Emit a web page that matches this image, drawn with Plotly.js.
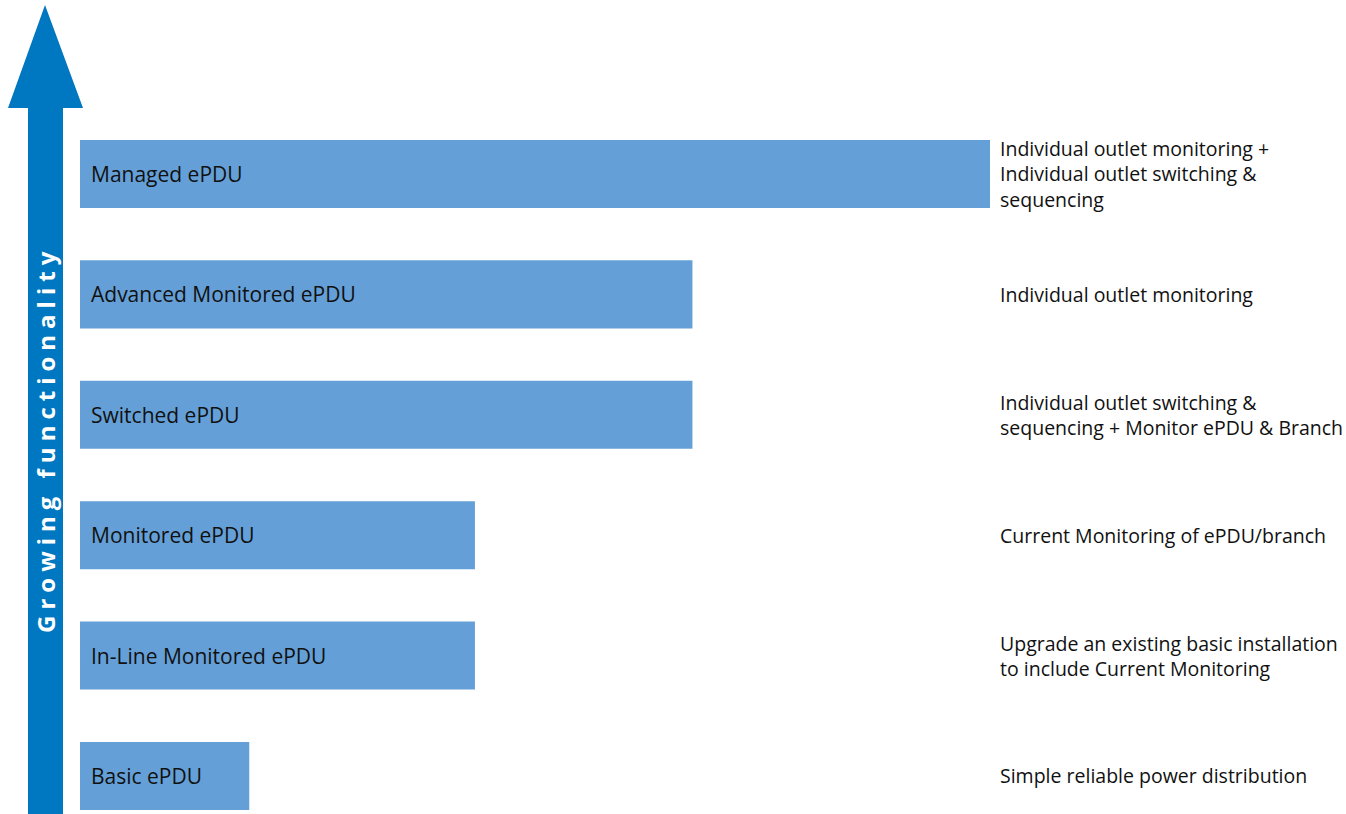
<!DOCTYPE html>
<html>
<head>
<meta charset="utf-8">
<script src="https://cdn.plot.ly/plotly-3.0.1.min.js"></script>
<style>
  html, body { margin: 0; padding: 0; background: #ffffff; }
  #chart { width: 1346px; height: 814px; }
</style>
</head>
<body>
<div id="chart"></div>
<script>
// ---- data ----
const categories = [
  'Basic ePDU',
  'In-Line Monitored ePDU',
  'Monitored ePDU',
  'Switched ePDU',
  'Advanced Monitored ePDU',
  'Managed ePDU'
];
const functionality = [18.6, 43.4, 43.4, 67.3, 67.3, 100];
const descriptions = [
  'Simple reliable power distribution',
  'Upgrade an existing basic installation<br>to include Current Monitoring',
  'Current Monitoring of ePDU/branch',
  'Individual outlet switching &<br>sequencing + Monitor ePDU & Branch',
  'Individual outlet monitoring',
  'Individual outlet monitoring +<br>Individual outlet switching &<br>sequencing'
];
const arrowLabel = 'Growing functionality';

// ---- layout helpers ----
const W = 1346, H = 814;
const M = { l: 80, r: 356, t: 0, b: 0 };
const PW = W - M.l - M.r;
const PH = H - M.t - M.b;
const px = x => (x - M.l) / PW;          // pixel -> paper x
const py = y => 1 - (y - M.t) / PH;      // pixel -> paper y

const FONT = '"Open Sans", "Noto Sans", sans-serif';

const trace = {
  type: 'bar',
  orientation: 'h',
  y: categories,
  x: functionality,
  width: 0.565,
  marker: { color: '#64A0D7', line: { width: 0 } },
  hoverinfo: 'skip',
  showlegend: false
};

const annotations = [];
categories.forEach((c, i) => {
  annotations.push({
    xref: 'x', yref: 'y', x: 0, y: c,
    xanchor: 'left', yanchor: 'middle', xshift: 9,
    text: c, showarrow: false,
    font: { family: FONT, size: 21, color: '#111111' }
  });
  annotations.push({
    xref: 'paper', yref: 'y', x: px(998), y: c,
    xanchor: 'left', yanchor: 'middle', align: 'left',
    text: descriptions[i], showarrow: false,
    font: { family: FONT, size: 19.5, color: '#111111' }
  });
});

annotations.push({
  xref: 'paper', yref: 'paper', x: px(45), y: py(440),
  xanchor: 'center', yanchor: 'middle', textangle: -90,
  text: '<span style="letter-spacing:6px">' + arrowLabel + '</span>',
  showarrow: false,
  font: { family: FONT, size: 24, color: '#ffffff', weight: 'bold' }
});

const arrowPts = [[45, 5], [83, 108], [63, 108], [63, 814], [28, 814], [28, 108], [8, 108]];
const arrowPath = 'M ' + arrowPts.map(p => px(p[0]) + ',' + py(p[1])).join(' L ') + ' Z';

const layout = {
  width: W, height: H,
  margin: M,
  paper_bgcolor: '#ffffff',
  plot_bgcolor: '#ffffff',
  xaxis: { range: [0, 100], visible: false, fixedrange: true },
  yaxis: { type: 'category', categoryarray: categories, range: [-0.316, 6.445], visible: false, fixedrange: true },
  shapes: [{
    type: 'path', xref: 'paper', yref: 'paper', path: arrowPath,
    fillcolor: '#0077C1', line: { width: 0 }, layer: 'below'
  }],
  annotations: annotations,
  showlegend: false
};

Plotly.newPlot('chart', [trace], layout, { displayModeBar: false, staticPlot: true });
</script>
</body>
</html>
